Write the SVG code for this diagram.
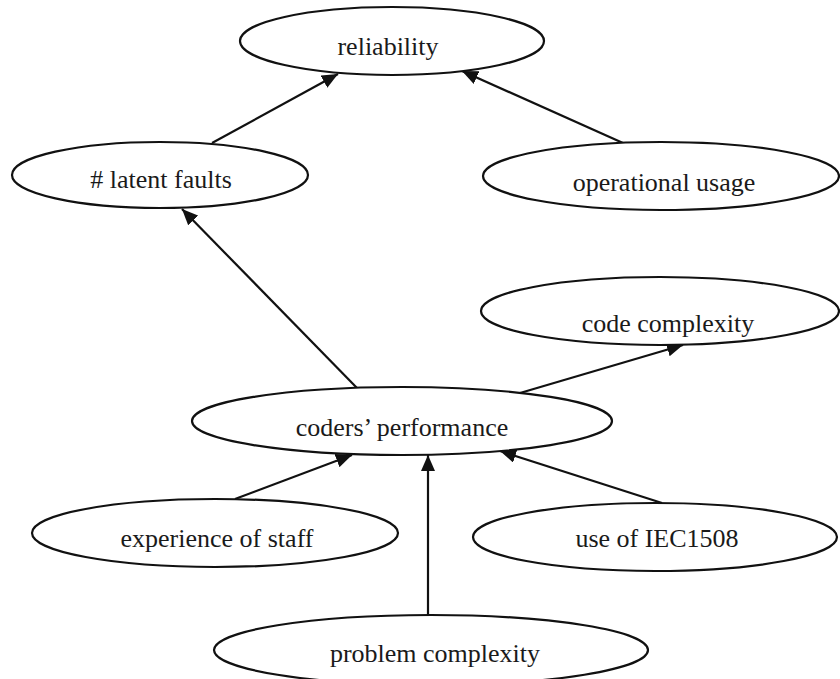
<svg xmlns="http://www.w3.org/2000/svg" width="840" height="679" viewBox="0 0 840 679">
<style>
.node ellipse{fill:#fff;stroke:#111;stroke-width:2.2}
.node text{font-family:"Liberation Serif","Times New Roman",serif;font-size:26px;fill:#1a1a1a;text-anchor:middle}
.edges line{stroke:#111;stroke-width:2.2;marker-end:url(#arr)}
</style>
<defs>
<marker id="arr" markerUnits="userSpaceOnUse" markerWidth="18" markerHeight="14" refX="16" refY="7" orient="auto">
<path d="M0,0 L16,7 L0,14 Z" fill="#111"/>
</marker>
</defs>
<rect width="840" height="679" fill="#fff"/>
<g class="edges">
<line x1="212" y1="143" x2="338" y2="74"/>
<line x1="623" y1="143" x2="462" y2="71"/>
<line x1="357" y1="388" x2="182" y2="209"/>
<line x1="520" y1="393" x2="683" y2="345"/>
<line x1="235" y1="499" x2="352" y2="455"/>
<line x1="662" y1="503" x2="500" y2="451"/>
<line x1="428" y1="615" x2="428" y2="455"/>
</g>
<g id="reliability" class="node"><ellipse cx="392" cy="41" rx="152" ry="34"/><text x="388" y="55">reliability</text></g>
<g id="latent-faults" class="node"><ellipse cx="160" cy="175" rx="148" ry="33"/><text x="161" y="188"># latent faults</text></g>
<g id="operational-usage" class="node"><ellipse cx="661" cy="176" rx="178" ry="34"/><text x="664" y="191">operational usage</text></g>
<g id="code-complexity" class="node"><ellipse cx="660" cy="311" rx="179" ry="34"/><text x="668" y="332">code complexity</text></g>
<g id="coders-performance" class="node"><ellipse cx="402" cy="421" rx="210" ry="34"/><text x="402" y="436">coders’ performance</text></g>
<g id="experience-of-staff" class="node"><ellipse cx="215" cy="533" rx="183" ry="34"/><text x="217" y="547">experience of staff</text></g>
<g id="use-of-iec1508" class="node"><ellipse cx="655" cy="537" rx="182" ry="34"/><text x="657" y="547">use of IEC1508</text></g>
<g id="problem-complexity" class="node"><ellipse cx="431" cy="650" rx="217" ry="35"/><text x="435" y="662">problem complexity</text></g>
</svg>
